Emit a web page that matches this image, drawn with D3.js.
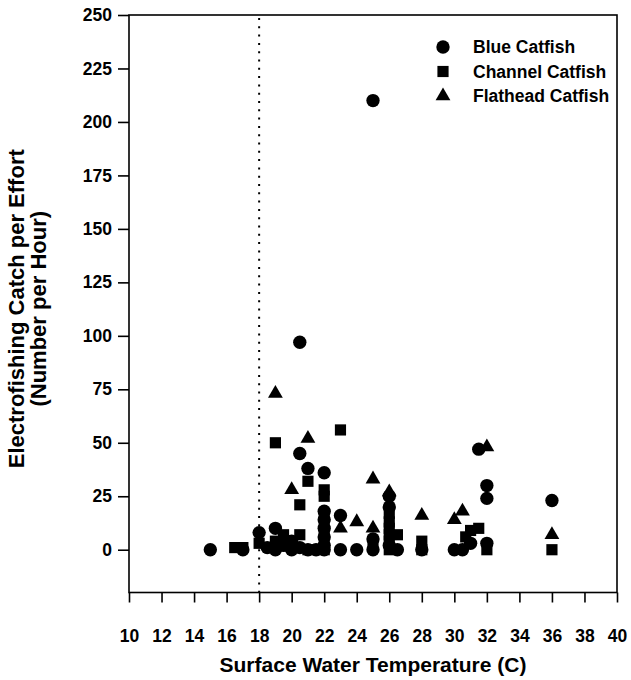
<!DOCTYPE html>
<html>
<head>
<meta charset="utf-8">
<script src="https://cdn.jsdelivr.net/npm/d3@7"></script>
<style>
  html, body { margin: 0; padding: 0; background: #fff; }
  svg { display: block; }
  text { font-family: "Liberation Sans", Arial, sans-serif; fill: #000; font-weight: bold; }
</style>
</head>
<body>
<svg id="chart" width="631" height="680"></svg>
<script>
// ---- data ----
const blueCatfish = [
  [15,0],[17,0],[18,8],[18.5,1],[19,10],[19,0],[19.5,2],[20,0],[20,4],
  [20.5,97],[20.5,45],[20.5,1],[21,38],[21,0],[21.5,0],
  [22,36],[22,18],[22,14],[22,10],[22,6],[22,2],[22,0],
  [23,16],[23,0],[24,0],[25,210],[25,5],[25,0],
  [26,25],[26,20],[26,2],[26.5,0],[28,0],[30,0],[30.5,0],[31,3],
  [31.5,47],[32,30],[32,24],[32,3],[36,23]
];
const channelCatfish = [
  [16.5,1],[17,1],[18,3],[19,50],[19,4],[19.5,7],[20,2],[20.5,21],[20.5,7],
  [21,32],[21,0],[22,28],[22,25],[22,16],[22,12],[22,8],[22,4],[22,0],
  [23,56],[25,2],[26,17],[26,13],[26,10],[26,7],[26,4],[26,0],[26.5,7],
  [28,4],[28,0],[30.7,6],[31,9],[31.5,10],[32,0],[36,0]
];
const flatheadCatfish = [
  [19,73],[19.5,4],[20,28],[21,52],[23,10],[24,13],[25,33],[25,10],
  [26,27],[28,16],[30,14],[30.5,18],[32,48],[36,7]
];
const seriesNames = ["Blue Catfish", "Channel Catfish", "Flathead Catfish"];
const xTicks = [10,12,14,16,18,20,22,24,26,28,30,32,34,36,38,40];
const yTicks = [0,25,50,75,100,125,150,175,200,225,250];
const xDomain = [10, 40];
const yDomain = [-20, 250];
const referenceTemp = 18;

// ---- layout ----
const svg = d3.select("#chart");
const mL = 129, mR = 617, mT = 15, mB = 592.5;
const x = d3.scaleLinear().domain(xDomain).range([mL, mR]);
const y = d3.scaleLinear().domain(yDomain).range([mB, mT]);

// frame
svg.append("rect")
  .attr("x", mL).attr("y", mT)
  .attr("width", mR - mL).attr("height", mB - mT)
  .attr("fill", "none").attr("stroke", "#000").attr("stroke-width", 1.6);

// axes
const xAxis = svg.append("g").attr("transform", `translate(0,${mB})`)
  .call(d3.axisBottom(x).tickValues(xTicks).tickSize(10).tickPadding(27).tickFormat(d3.format("d")));
const yAxis = svg.append("g").attr("transform", `translate(${mL},0)`)
  .call(d3.axisLeft(y).tickValues(yTicks).tickSize(11).tickPadding(6).tickFormat(d3.format("d")));
[xAxis, yAxis].forEach(g => {
  g.select(".domain").remove();
  g.selectAll(".tick line").attr("stroke", "#000").attr("stroke-width", 1.6);
  g.selectAll(".tick text")
    .attr("font-family", "'Liberation Sans', Arial, sans-serif")
    .attr("font-weight", "bold")
    .attr("font-size", 17.5).attr("fill", "#000");
});

// dotted reference line
svg.append("line")
  .attr("x1", x(referenceTemp)).attr("x2", x(referenceTemp))
  .attr("y1", mT + 3).attr("y2", mB)
  .attr("stroke", "#000").attr("stroke-width", 2)
  .attr("stroke-dasharray", "2,6.3");

// markers
const symbols = [
  d3.symbol().type(d3.symbolCircle).size(140),
  d3.symbol().type(d3.symbolSquare).size(125),
  d3.symbol().type(d3.symbolTriangle).size(95)
];
const allSeries = [blueCatfish, channelCatfish, flatheadCatfish];
const plot = svg.append("g");
allSeries.forEach((data, i) => {
  plot.selectAll(null).data(data).enter().append("path")
    .attr("d", symbols[i]())
    .attr("transform", d => `translate(${x(d[0])},${y(d[1])})`)
    .attr("fill", "#000");
});

// legend
const legend = svg.append("g");
seriesNames.forEach((name, i) => {
  const ly = 47 + i * 24.5;
  legend.append("path").attr("d", symbols[i]())
    .attr("transform", `translate(443,${ly})`).attr("fill", "#000");
  legend.append("text").attr("x", 473).attr("y", ly + 6)
    .attr("font-size", 17.5).text(name);
});

// axis titles
svg.append("text")
  .attr("x", (mL + mR) / 2).attr("y", 672)
  .attr("text-anchor", "middle").attr("font-size", 21)
  .text("Surface Water Temperature (C)");
const yt = svg.append("text")
  .attr("transform", `translate(24,${(mT + mB) / 2 + 5}) rotate(-90)`)
  .attr("text-anchor", "middle").attr("font-size", 22);
yt.append("tspan").attr("x", 0).attr("dy", 0).text("Electrofishing Catch per Effort");
yt.append("tspan").attr("x", 0).attr("dy", 22).text("(Number per Hour)");
</script>
</body>
</html>
